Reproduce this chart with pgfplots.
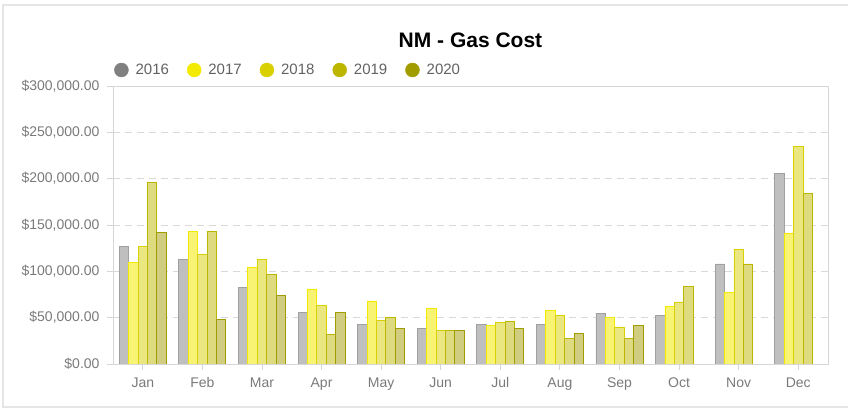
\documentclass[border=0pt]{standalone}
\usepackage{fontspec}
\setmainfont{Liberation Sans}
\usepackage{pgfplots}
\pgfplotsset{compat=1.18}
\definecolor{c16}{HTML}{808080}
\definecolor{c17}{HTML}{F2EA00}
\definecolor{c18}{HTML}{D8D000}
\definecolor{c19}{HTML}{BDB600}
\definecolor{c20}{HTML}{A19C00}
\definecolor{tickgray}{HTML}{7A7A7A}
\definecolor{framegray}{HTML}{D6D6D6}
\begin{document}
\begin{tikzpicture}[x=1pt,y=1pt]
\path[use as bounding box] (0,0) rectangle (848,409);
\draw[color=black!10, line width=1.5pt] (848,404) -- (3,404) -- (3,2) -- (848,2);
\begin{axis}[
  at={(113pt,45pt)}, anchor=south west,
  scale only axis, width=715pt, height=278pt,
  xmin=-0.5, xmax=11.5, ymin=0, ymax=300000,
  bar width=9.4pt,
  xtick={0,...,11},
  xticklabels={Jan,Feb,Mar,Apr,May,Jun,Jul,Aug,Sep,Oct,Nov,Dec},
  ytick={0,50000,100000,150000,200000,250000,300000},
  yticklabels={\$0.00,\$50{,}000.00,\$100{,}000.00,\$150{,}000.00,\$200{,}000.00,\$250{,}000.00,\$300{,}000.00},
  scaled y ticks=false,
  xtick pos=bottom, ytick pos=left,
  tick align=outside, major tick length=6pt,
  tick style={color=framegray, line width=0.8pt},
  axis line style={color=framegray, line width=0.8pt},
  ymajorgrids, grid style={dash pattern=on 7pt off 5pt, color=black!15, line width=0.8pt},
  ticklabel style={font=\fontsize{14}{16}\selectfont, text=tickgray},
  yticklabel style={xshift=-4pt},
  xticklabel style={yshift=-4pt},
  title={NM - Gas Cost},
  title style={at={(0.5,1)}, anchor=center, yshift=40pt, font=\bfseries\fontsize{21}{24}\selectfont},
  legend columns=5,
  legend style={at={(0,1)}, anchor=west, xshift=1pt, yshift=16pt, draw=none, fill=none, inner sep=0pt,
    font=\fontsize{15}{17}\selectfont, text=tickgray!80!black,
    /tikz/every even column/.append style={column sep=16pt}},
  legend cell align=left,
]
\addlegendimage{legend image code/.code={\fill[c16] (0pt,0pt) circle (7pt); \path (12pt,0pt);}}
\addlegendentry{2016}
\addlegendimage{legend image code/.code={\fill[c17] (0pt,0pt) circle (7pt); \path (12pt,0pt);}}
\addlegendentry{2017}
\addlegendimage{legend image code/.code={\fill[c18] (0pt,0pt) circle (7pt); \path (12pt,0pt);}}
\addlegendentry{2018}
\addlegendimage{legend image code/.code={\fill[c19] (0pt,0pt) circle (7pt); \path (12pt,0pt);}}
\addlegendentry{2019}
\addlegendimage{legend image code/.code={\fill[c20] (0pt,0pt) circle (7pt); \path (12pt,0pt);}}
\addlegendentry{2020}
\addplot[ybar, bar shift=-18.8pt, forget plot, fill=c16!50, draw=c16!75, line width=0.8pt] coordinates {
(0,127000) (1,113000) (2,83000) (3,56000) (4,43000) (5,38000) (6,43000) (7,43000) (8,55000) (9,52500) (10,108000) (11,206000)};
\addplot[ybar, bar shift=-9.4pt, forget plot, fill=c17!55, draw=c17, line width=0.8pt] coordinates {
(0,110000) (1,143000) (2,104000) (3,81000) (4,68000) (5,60000) (6,42000) (7,58000) (8,50000) (9,62500) (10,77000) (11,141000)};
\addplot[ybar, bar shift=0pt, forget plot, fill=c18!50, draw=c18, line width=0.8pt] coordinates {
(0,127000) (1,118000) (2,113000) (3,63000) (4,47000) (5,36000) (6,44500) (7,52000) (8,40000) (9,67000) (10,124000) (11,235000)};
\addplot[ybar, bar shift=9.4pt, forget plot, fill=c19!50, draw=c19, line width=0.8pt] coordinates {
(0,196000) (1,143000) (2,97000) (3,32000) (4,50000) (5,36000) (6,46000) (7,28000) (8,28000) (9,84000) (10,108000) (11,184000)};
\addplot[ybar, bar shift=18.8pt, forget plot, fill=c20!50, draw=c20, line width=0.8pt] coordinates {
(0,142000) (1,48000) (2,74000) (3,56000) (4,38500) (5,36000) (6,38500) (7,33000) (8,42000)};
\end{axis}
\end{tikzpicture}
\end{document}
